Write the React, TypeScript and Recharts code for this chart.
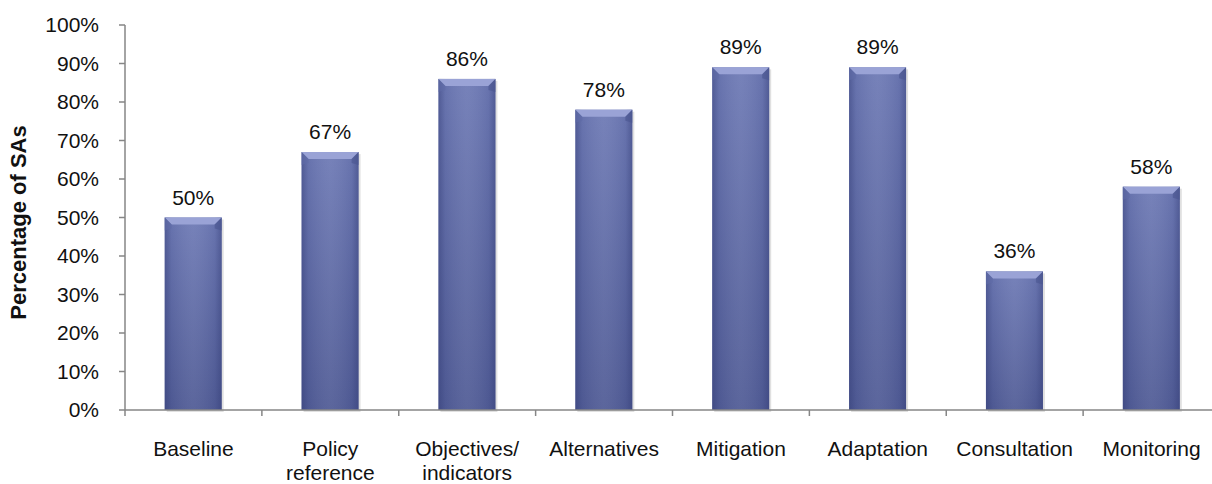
import React from 'react';
import { BarChart, Bar, XAxis, YAxis, LabelList, Label } from 'recharts';

// Share of SAs covering each element
const categories = [
  'Baseline',
  'Policy reference',
  'Objectives/ indicators',
  'Alternatives',
  'Mitigation',
  'Adaptation',
  'Consultation',
  'Monitoring',
];
const shares = [50, 67, 86, 78, 89, 89, 36, 58];

// Two-line category names
const tickLines: Record<string, string[]> = {
  'Policy reference': ['Policy', 'reference'],
  'Objectives/ indicators': ['Objectives/', 'indicators'],
};

const yTicks = [0, 10, 20, 30, 40, 50, 60, 70, 80, 90, 100];

const data = categories.map((name, i) => ({ name, value: shares[i] }));

const FONT = '"Liberation Sans", Arial, sans-serif';
const AXIS = '#868686';

function BevelBar(props: any) {
  const { x, y, width, height } = props;
  if (!height || height <= 0) return null;
  const b = 7;
  return (
    <g>
      <rect x={x + 2} y={y + 2} width={width} height={height} fill="#000" opacity={0.12} />
      <rect x={x} y={y} width={width} height={height} fill="url(#barBody)" />
      <rect x={x} y={y} width={width} height={height} fill="url(#barEdges)" />
      <polygon
        points={`${x},${y} ${x + width},${y} ${x + width - b},${y + b} ${x + b},${y + b}`}
        fill="#9aa3d6"
      />
      <polygon points={`${x},${y} ${x + b},${y + b} ${x + b},${y + b + 4} ${x},${y + b + 6}`} fill="#5f6aa6" opacity={0.6} />
      <polygon
        points={`${x + width},${y} ${x + width - b},${y + b} ${x + width - b},${y + b + 4} ${x + width},${y + b + 6}`}
        fill="#4a5590"
        opacity={0.6}
      />
    </g>
  );
}

// Category label plus tick marks on the band edges
function CategoryTick(props: any) {
  const { x, y, payload, index, visibleTicksCount } = props;
  const half = payload.offset || 0;
  const lines = tickLines[payload.value] || [payload.value];
  const last = index === (visibleTicksCount ?? categories.length) - 1;
  return (
    <g>
      <line x1={x - half} x2={x - half} y1={y} y2={y + 6} stroke={AXIS} strokeWidth={1.5} />
      {last && <line x1={x + half} x2={x + half} y1={y} y2={y + 6} stroke={AXIS} strokeWidth={1.5} />}
      <text x={x} y={y} textAnchor="middle" fill="#111" fontSize={21} fontFamily={FONT}>
        {lines.map((l, i) => (
          <tspan key={i} x={x} dy={i === 0 ? 46 : 24}>
            {l}
          </tspan>
        ))}
      </text>
    </g>
  );
}

export default function App() {
  return (
    <div style={{ position: 'absolute', left: 0, top: 0, width: 1212, height: 484, overflow: 'hidden', background: '#fff' }}>
      <BarChart
        width={1230}
        height={484}
        data={data}
        margin={{ top: 25, right: 10, bottom: 0, left: 0 }}
        barCategoryGap="29%"
      >
        <defs>
          <linearGradient id="barBody" x1="0" y1="0" x2="0" y2="1">
            <stop offset="0%" stopColor="#6e7ab5" />
            <stop offset="100%" stopColor="#515c96" />
          </linearGradient>
          <linearGradient id="barEdges" x1="0" y1="0" x2="1" y2="0">
            <stop offset="0%" stopColor="#2e3770" stopOpacity={0.45} />
            <stop offset="12%" stopColor="#2e3770" stopOpacity={0.1} />
            <stop offset="50%" stopColor="#ffffff" stopOpacity={0.06} />
            <stop offset="88%" stopColor="#2e3770" stopOpacity={0.1} />
            <stop offset="100%" stopColor="#2e3770" stopOpacity={0.45} />
          </linearGradient>
        </defs>
        <XAxis
          dataKey="name"
          height={74}
          interval={0}
          tickLine={false}
          tickSize={0}
          tickMargin={0}
          axisLine={{ stroke: AXIS, strokeWidth: 1.5 }}
          tick={<CategoryTick />}
        />
        <YAxis
          width={125}
          domain={[0, 100]}
          ticks={yTicks}
          interval={0}
          tickFormatter={(v) => `${v}%`}
          tickSize={6}
          tickMargin={20}
          axisLine={{ stroke: AXIS, strokeWidth: 1.5 }}
          tickLine={{ stroke: AXIS, strokeWidth: 1.5 }}
          tick={{ fill: '#111', fontSize: 21, fontFamily: FONT }}
        >
          <Label
            content={({ viewBox }: any) => {
              const cx = 18;
              const cy = viewBox.y + viewBox.height / 2 + 5;
              return (
                <text
                  x={cx}
                  y={cy}
                  transform={`rotate(-90 ${cx} ${cy})`}
                  textAnchor="middle"
                  dominantBaseline="central"
                  fontSize={22}
                  fontWeight="bold"
                  fontFamily={FONT}
                  fill="#111"
                >
                  Percentage of SAs
                </text>
              );
            }}
          />
        </YAxis>
        <Bar dataKey="value" shape={<BevelBar />} isAnimationActive={false}>
          <LabelList
            dataKey="value"
            position="top"
            offset={13}
            formatter={(v: any) => `${v}%`}
            style={{ fill: '#111', fontSize: 21, fontFamily: FONT }}
          />
        </Bar>
      </BarChart>
    </div>
  );
}
